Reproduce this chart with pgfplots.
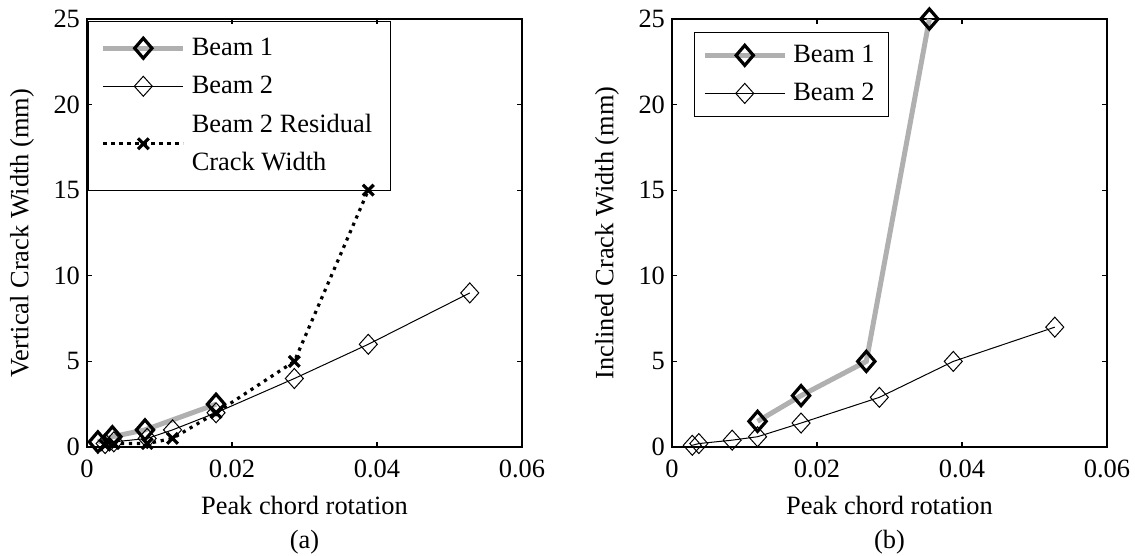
\documentclass[border=0pt]{standalone}
\usepackage{pgfplots}
\pgfplotsset{compat=1.18}
\usepackage{fontspec}
\setmainfont{Liberation Serif}
\definecolor{beamgray}{RGB}{176,176,176}
\newcommand{\fs}{\fontsize{13.2}{17}\selectfont}
\newcommand{\lfs}{\fontsize{13.2}{19}\selectfont}
\pgfplotsset{
  mystyle/.style={
    scale only axis, width=217.5pt, height=214pt,
    xmin=0, xmax=0.06, ymin=0, ymax=25,
    scaled x ticks=false, scaled y ticks=false,
    xtick={0,0.02,0.04,0.06}, xticklabels={0,0.02,0.04,0.06},
    ytick={0,5,10,15,20,25}, yticklabels={0,5,10,15,20,25},
    tick align=inside, major tick length=2.5pt,
    axis line style={line width=0.8pt},
    every tick/.style={line width=0.6pt, black},
    clip=false,
    /pgf/number format/assume math mode=true,
    tick label style={font=\fs},
    xticklabel style={yshift=-3pt},
    label style={font=\fs},
    xlabel style={align=center, at={(axis description cs:0.5,0)}, anchor=center, yshift=-39pt},
    ylabel style={at={(axis description cs:-0.1494,0.5)}, anchor=center},
    legend cell align=left,
    legend style={font=\lfs, draw=black, line width=0.5pt, cells={align=left},
      inner xsep=4pt, inner ysep=2pt, nodes={inner xsep=3pt, inner ysep=4.4pt}},
    legend image code/.code={\draw[mark repeat=2,mark phase=2] plot coordinates {(0pt,0pt) (20pt,0pt) (40pt,0pt)};},
  },
  b1/.style={beamgray, line width=2.5pt, mark=diamond, mark size=5pt,
    mark options={draw=black, line width=1.6pt, xscale=1.15, solid}},
  b2/.style={black, line width=0.5pt, mark=diamond, mark size=5pt,
    mark options={draw=black, fill=none, line width=0.5pt, xscale=1.2, solid}},
  res/.style={black, line width=1.6pt, dash pattern=on 1.6pt off 2.4pt, mark=x, mark size=3.8pt,
    mark options={line width=1.6pt, solid}},
}
\begin{document}
\begin{tikzpicture}
\path[use as bounding box] (-43.5pt,-54.5pt) rectangle (524pt,223.5pt);
\begin{axis}[mystyle,
  xlabel={Peak chord rotation\\(a)},
  ylabel={Vertical Crack Width (mm)},
  legend style={at={(axis description cs:0.003,0.996)}, anchor=north west, fill=none, inner xsep=6pt, inner ysep=4pt}]
\addplot[b1] coordinates {(0.0015,0.3) (0.0035,0.6) (0.008,1.0) (0.0178,2.5)};
\addlegendentry{Beam 1}
\addplot[b2] coordinates {(0.0025,0.2) (0.0037,0.3) (0.0083,0.5) (0.0118,1.0) (0.0178,2.0) (0.0286,4.0) (0.0388,6.0) (0.0528,9.0)};
\addlegendentry{Beam 2}
\addplot[res] coordinates {(0.0025,0.1) (0.0037,0.2) (0.0083,0.2) (0.0118,0.5) (0.0178,2.0) (0.0286,5.0) (0.0388,15.0)};
\addlegendentry{Beam 2 Residual\\Crack Width}
\end{axis}
\begin{axis}[mystyle, xshift=292.5pt,
  xlabel={Peak chord rotation\\(b)},
  ylabel={Inclined Crack Width (mm)},
  legend style={at={(axis description cs:0.05,0.97)}, anchor=north west}]
\addplot[b1] coordinates {(0.0118,1.5) (0.0178,3.0) (0.0268,5.0) (0.0355,25.0)};
\addlegendentry{Beam 1}
\addplot[b2] coordinates {(0.0028,0.1) (0.0037,0.2) (0.0083,0.4) (0.0118,0.6) (0.0178,1.4) (0.0286,2.9) (0.0388,5.0) (0.0528,7.0)};
\addlegendentry{Beam 2}
\end{axis}
\end{tikzpicture}
\end{document}
